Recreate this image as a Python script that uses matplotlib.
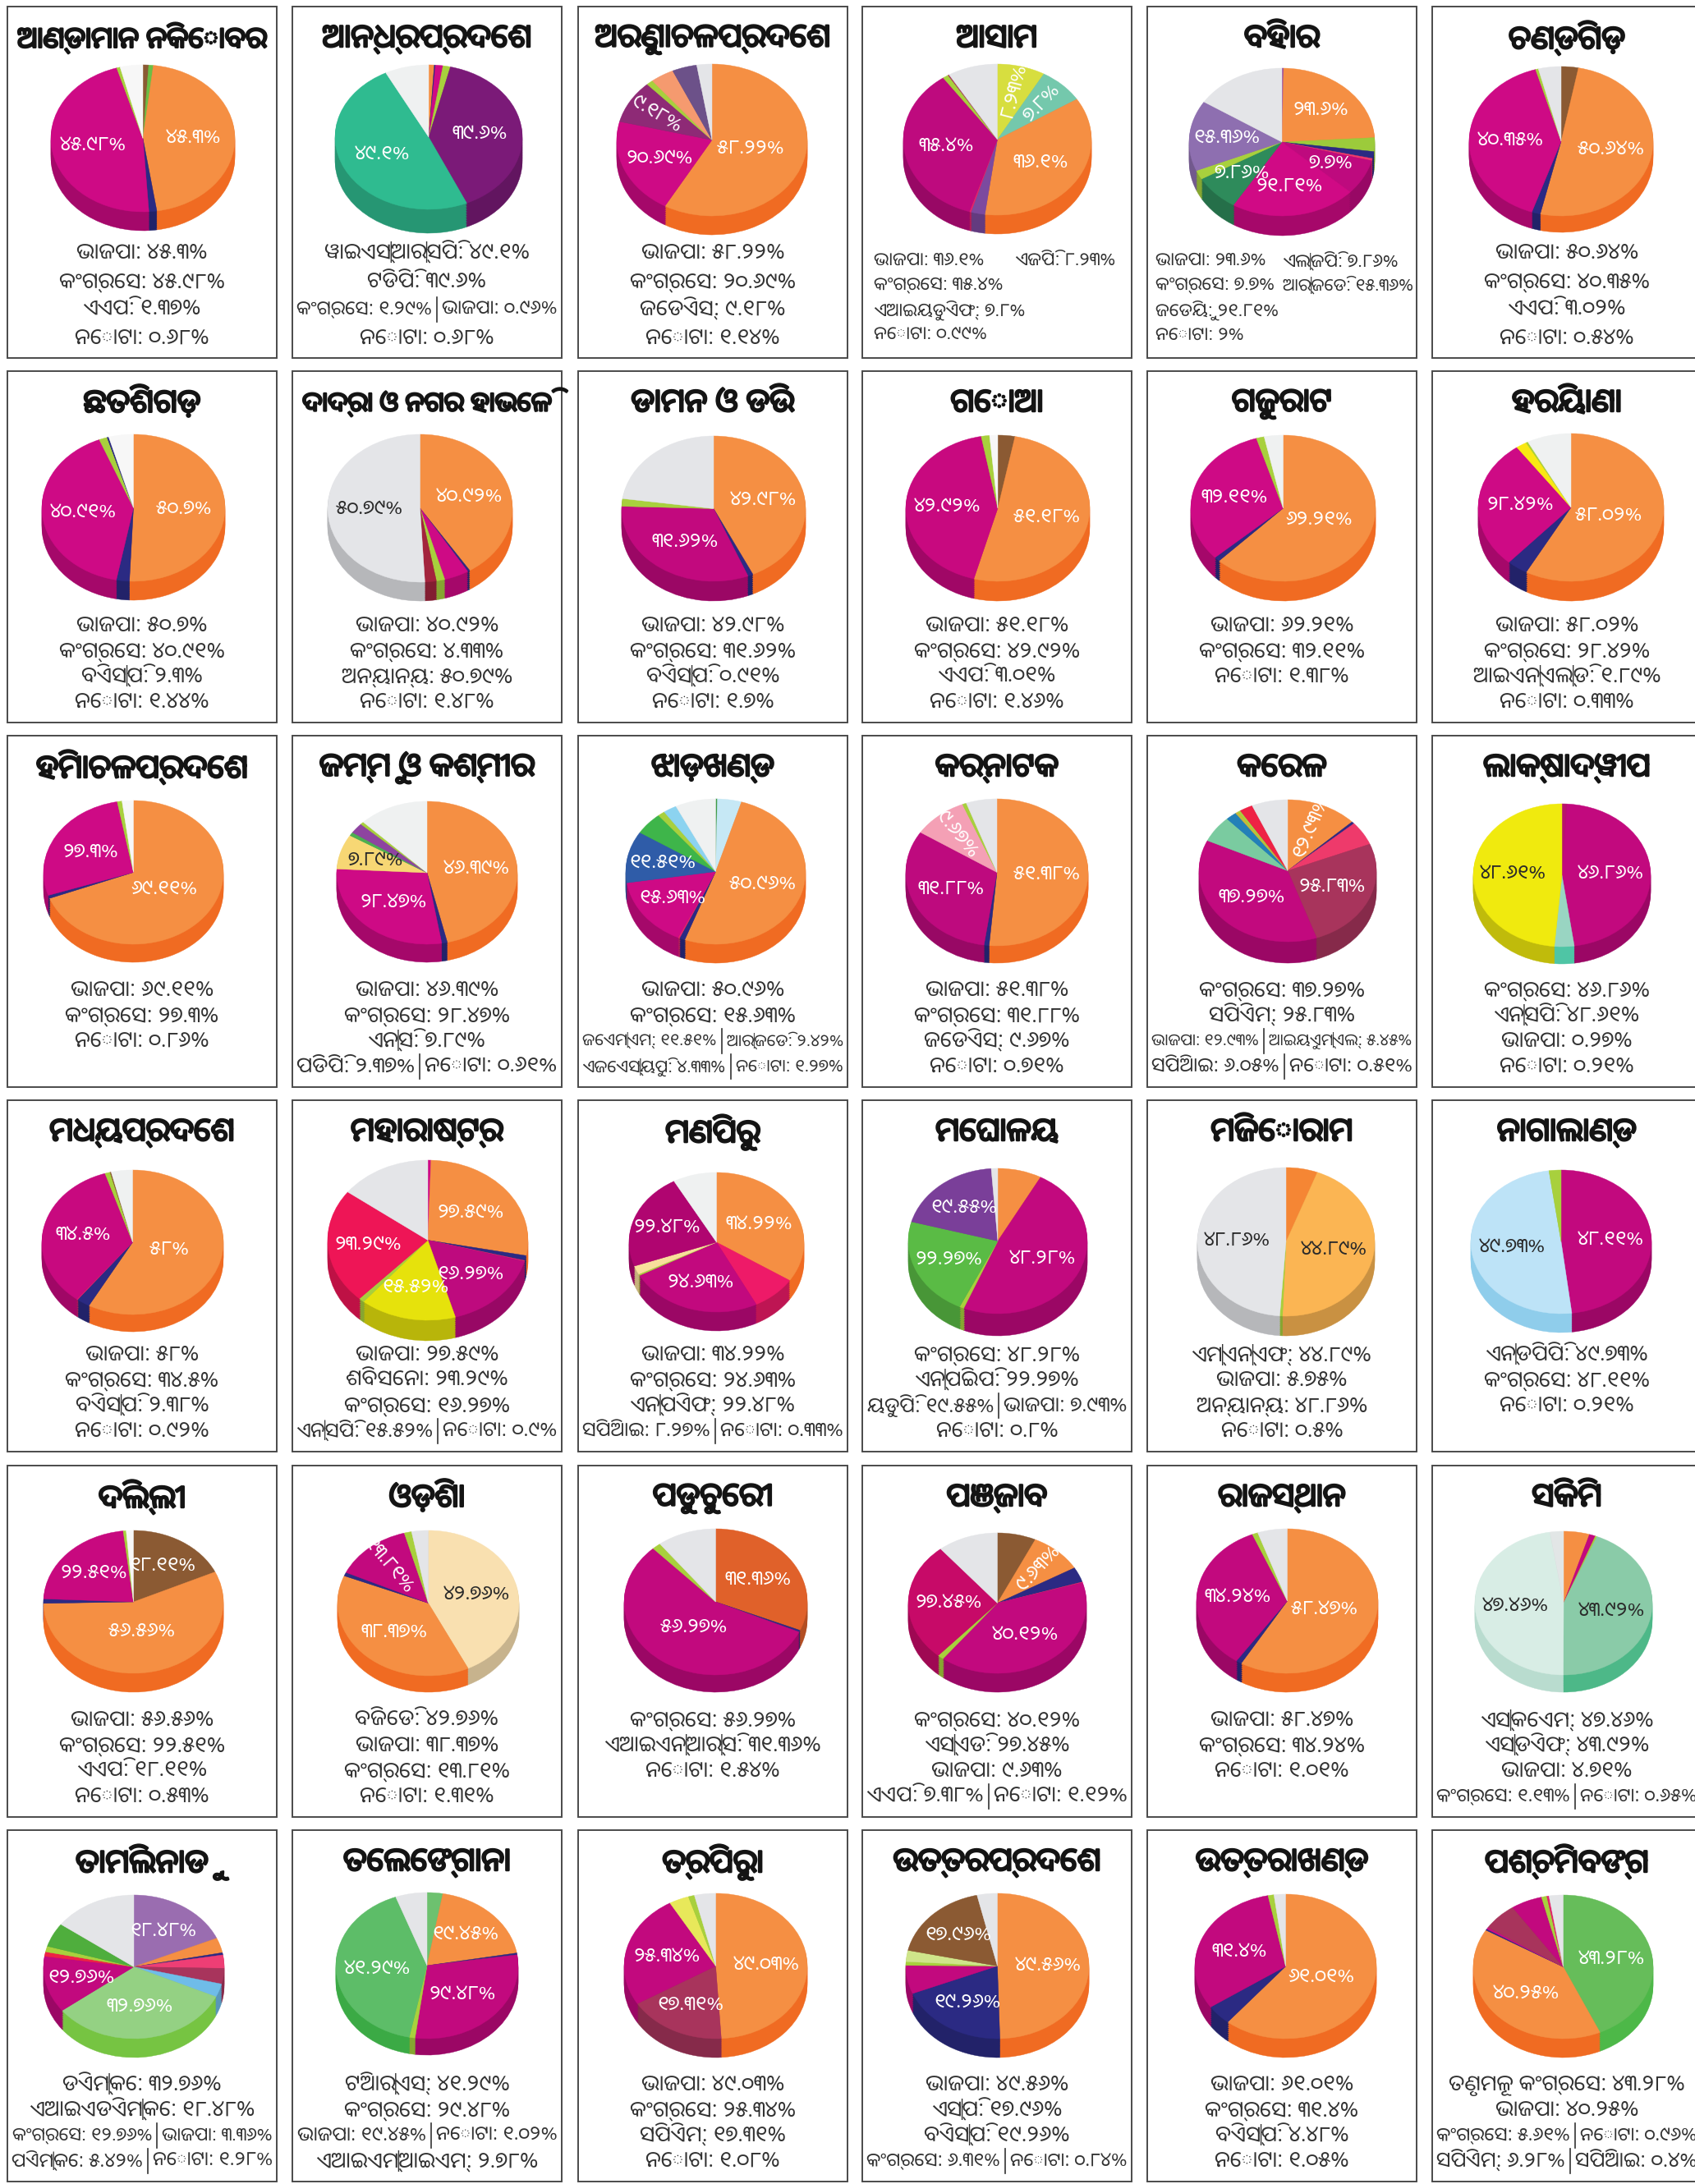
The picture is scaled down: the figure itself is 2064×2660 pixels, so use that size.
#!/usr/bin/env python
# 36 small 3d-look pies, one per state, lok sabha vote share
import numpy as np
import matplotlib
matplotlib.use('Agg')
import matplotlib.pyplot as plt
import matplotlib.patheffects as pe
from matplotlib.colors import to_rgb
from matplotlib.patches import Rectangle

plt.rcParams['font.family'] = ['Noto Sans Oriya', 'DejaVu Sans']

orange = '#F58F43'
magenta = '#CE0A85'
navy = '#2B2A83'
lime = '#A8D03D'
gray = '#E4E5E8'
pale = '#F7F7F7'
brown = '#8B5A33'
rose = '#A8345C'
yellow = '#F0EA0E'
cream = '#F9E0B0'
sky = '#BDE3F7'
mint = '#8ACBA8'
foam = '#D8EDE5'
amber = '#FBB553'
sand = '#F7D774'

BJP = 'ଭାଜପା'
INC = 'କଂଗ୍ରେସ'
NOTA = 'ନୋଟା'
AAP = 'ଏଏପି'
BSP = 'ବିଏସ୍‌ପି'
OTH = 'ଅନ୍ୟାନ୍ୟ'

# slices run clockwise from 12 o'clock, lab = which slices carry a percent
andaman_v = [1.0, 0.8, 45.3, 1.37, 45.98, 0.6, 3.95]
andaman_c = [brown, '#6CBE45', orange, navy, magenta, lime, pale]
andaman_lab = [2, 4]
andaman_p = [BJP, INC, AAP, NOTA]
andaman_s = [45.3, 45.98, 1.37, 0.68]
andaman_r = [1, 1, 1, 1]

andhra_v = [0.96, 0.2, 1.29, 1.28, 39.6, 49.1, 7.57]
andhra_c = [orange, navy, magenta, lime, '#7B1A78', '#2FBB90', '#EFF1F1']
andhra_lab = [4, 5]
andhra_p = ['ୱାଇଏସ୍‌ଆର୍‌ସିପି', 'ଟିଡିପି', INC, BJP, NOTA]
andhra_s = [49.1, 39.6, 1.29, 0.96, 0.68]
andhra_r = [1, 1, 2, 1]

arunachal_v = [58.22, 20.69, 9.18, 1.14, 4, 4.2, 2.57]
arunachal_c = [orange, magenta, '#8E2A76', lime, '#F59A6F', '#6C5189', gray]
arunachal_lab = [0, 1, 2]
arunachal_p = [BJP, INC, 'ଜେଡିଏସ୍', NOTA]
arunachal_s = [58.22, 20.69, 9.18, 1.14]
arunachal_r = [1, 1, 1, 1]

assam_v = [8.23, 7.8, 36.1, 2.4, 0.3, 35.4, 0.99, 0.2, 8.58]
assam_c = ['#D7DE3F', '#74C8AC', orange, '#7C4A9F', '#E3256B', '#BE0A7E', lime, rose, gray]
assam_lab = [0, 1, 2, 5]
assam_p = [BJP, 'ଏଜିପି', INC, 'ଏଆଇୟୁଡିଏଫ୍', NOTA]
assam_s = [36.1, 8.23, 35.4, 7.8, 0.99]
assam_r = [2, 1, 1, 1]

bihar_v = [0.3, 23.6, 3, 1.5, 0.5, 7.7, 21.81, 7.86, 2, 15.36, 15.77]
bihar_c = ['#9B4FA0', orange, '#9CCB3B', navy, '#EE3A6B', '#BE0A7E', '#D00A85', '#2E8B5B', lime, '#8E6FB0', gray]
bihar_lab = [1, 5, 6, 7, 9]
bihar_p = [BJP, 'ଏଲ୍‌ଜିପି', INC, 'ଆର୍‌ଜେଡି', 'ଜେଡିୟୁ', NOTA]
bihar_s = [23.6, 7.86, 7.7, 15.36, 21.81, 2]
bihar_r = [2, 2, 1, 1]

chandigarh_v = [3.02, 50.64, 1.5, 40.35, 0.5, 3.99]
chandigarh_c = [brown, orange, navy, magenta, lime, gray]
chandigarh_lab = [1, 3]
chandigarh_p = [BJP, INC, AAP, NOTA]
chandigarh_s = [50.64, 40.35, 3.02, 0.54]
chandigarh_r = [1, 1, 1, 1]

chhattisgarh_v = [50.7, 2.3, 40.91, 1.44, 0.3, 4.35]
chhattisgarh_c = [orange, navy, magenta, lime, navy, pale]
chhattisgarh_lab = [0, 2]
chhattisgarh_p = [BJP, INC, BSP, NOTA]
chhattisgarh_s = [50.7, 40.91, 2.3, 1.44]
chhattisgarh_r = [1, 1, 1, 1]

dadra_v = [40.92, 0.4, 4.33, 1.48, 2, 50.79]
dadra_c = [orange, navy, magenta, lime, '#A3243D', gray]
dadra_lab = [0, 5]
dadra_p = [BJP, INC, OTH, NOTA]
dadra_s = [40.92, 4.33, 50.79, 1.48]
dadra_r = [1, 1, 1, 1]

daman_v = [42.98, 0.91, 31.62, 1.7, 22.79]
daman_c = [orange, navy, '#C2097E', lime, gray]
daman_lab = [0, 2]
daman_p = [BJP, INC, BSP, NOTA]
daman_s = [42.98, 31.62, 0.91, 1.7]
daman_r = [1, 1, 1, 1]

goa_v = [3.01, 51.18, 42.92, 1.46, 1.43]
goa_c = [brown, orange, '#C8097F', lime, pale]
goa_lab = [1, 2]
goa_p = [BJP, INC, AAP, NOTA]
goa_s = [51.18, 42.92, 3.01, 1.46]
goa_r = [1, 1, 1, 1]

gujarat_v = [62.21, 1, 32.11, 1.38, 3.3]
gujarat_c = [orange, navy, magenta, lime, '#EFF1F1']
gujarat_lab = [0, 2]
gujarat_p = [BJP, INC, NOTA]
gujarat_s = [62.21, 32.11, 1.38]
gujarat_r = [1, 1, 1]

haryana_v = [58.02, 3.65, 28.42, 1.89, 0.33, 7.69]
haryana_c = [orange, navy, magenta, '#F9E813', lime, '#EFF1F1']
haryana_lab = [0, 2]
haryana_p = [BJP, INC, 'ଆଇଏନ୍‌ଏଲ୍‌ଡି', NOTA]
haryana_s = [58.02, 28.42, 1.89, 0.33]
haryana_r = [1, 1, 1, 1]

himachal_v = [69.11, 0.7, 27.3, 0.86, 2.03]
himachal_c = [orange, navy, magenta, lime, pale]
himachal_lab = [0, 2]
himachal_p = [BJP, INC, NOTA]
himachal_s = [69.11, 27.3, 0.86]
himachal_r = [1, 1, 1]

jammu_v = [46.39, 1, 28.47, 7.89, 0.8, 2.37, 0.61, 12.47]
jammu_c = [orange, navy, magenta, sand, '#4CAF50', '#8E44A0', lime, '#EFF1F1']
jammu_lab = [0, 2, 3]
jammu_p = [BJP, INC, 'ଏନ୍‌ସି', 'ପିଡିପି', NOTA]
jammu_s = [46.39, 28.47, 7.89, 2.37, 0.61]
jammu_r = [1, 1, 1, 2]

jharkhand_v = [0.3, 4.33, 50.96, 1, 0.3, 15.63, 11.51, 5, 1.27, 2.42, 7.28]
jharkhand_c = ['#3E9B46', '#C6E8F5', orange, navy, '#E3256B', magenta, '#2F5CA8', '#3EB54A', lime, '#8CD3F0', '#EFF1F1']
jharkhand_lab = [2, 5, 6]
jharkhand_p = [BJP, INC, 'ଜେଏମ୍‌ଏମ୍', 'ଆର୍‌ଜେଡି', 'ଏଜେଏସ୍‌ୟୁପି', NOTA]
jharkhand_s = [50.96, 15.63, 11.51, 2.42, 4.33, 1.27]
jharkhand_r = [1, 1, 2, 2]

karnataka_v = [51.38, 0.9, 31.88, 9.67, 0.71, 5.46]
karnataka_c = [orange, navy, '#BE0A7E', '#F4A0B5', lime, gray]
karnataka_lab = [0, 2, 3]
karnataka_p = [BJP, INC, 'ଜେଡିଏସ୍', NOTA]
karnataka_s = [51.38, 31.88, 9.67, 0.71]
karnataka_r = [1, 1, 1, 1]

kerala_v = [12.93, 0.5, 5.45, 25.83, 37.27, 6.05, 2, 0.5, 0.51, 2.4, 6.56]
kerala_c = [orange, navy, '#EE3A6B', rose, '#C2097E', '#7ACBA0', '#2380B8', '#C9B83A', lime, '#EE2245', gray]
kerala_lab = [0, 3, 4]
kerala_p = [INC, 'ସିପିଏମ୍', BJP, 'ଆଇୟୁଏମ୍‌ଏଲ୍', 'ସିପିଆଇ', NOTA]
kerala_s = [37.27, 25.83, 12.93, 5.45, 6.05, 0.51]
kerala_r = [1, 1, 2, 2]

lakshadweep_v = [0.9, 46.86, 3.6, 48.61]
lakshadweep_c = ['#B8146C', '#C2097E', '#99D5C2', yellow]
lakshadweep_lab = [1, 3]
lakshadweep_p = [INC, 'ଏନ୍‌ସିପି', BJP, NOTA]
lakshadweep_s = [46.86, 48.61, 0.27, 0.21]
lakshadweep_r = [1, 1, 1, 1]

mp_v = [58, 2.38, 0.2, 34.5, 0.92, 0.2, 3.8]
mp_c = [orange, navy, '#E3256B', '#C8097F', lime, brown, '#EFF1F1']
mp_lab = [0, 3]
mp_p = [BJP, INC, BSP, NOTA]
mp_s = [58, 34.5, 2.38, 0.92]
mp_r = [1, 1, 1, 1]

maharashtra_v = [0.5, 27.59, 1, 0.2, 16.27, 15.52, 0.9, 23.29, 14.73]
maharashtra_c = [magenta, orange, navy, '#E3256B', '#BE0A7E', '#E6E20C', lime, '#EE1556', gray]
maharashtra_lab = [1, 4, 5, 7]
maharashtra_p = [BJP, 'ଶିବସେନା', INC, 'ଏନ୍‌ସିପି', NOTA]
maharashtra_s = [27.59, 23.29, 16.27, 15.52, 0.9]
maharashtra_r = [1, 1, 1, 2]

manipur_v = [34.22, 8.27, 24.63, 0.33, 2, 22.48, 8.07]
manipur_c = [orange, '#EE1A68', '#C2097E', lime, '#F8DF9B', '#B00570', '#EFF1F1']
manipur_lab = [0, 2, 5]
manipur_p = [BJP, INC, 'ଏନ୍‌ପିଏଫ୍', 'ସିପିଆଇ', NOTA]
manipur_s = [34.22, 24.63, 22.48, 8.27, 0.33]
manipur_r = [1, 1, 1, 2]

meghalaya_v = [7.93, 48.28, 0.8, 22.27, 19.55, 1.17]
meghalaya_c = [orange, '#C2097E', lime, '#5ABB45', '#7A3F99', gray]
meghalaya_lab = [1, 3, 4]
meghalaya_p = [INC, 'ଏନ୍‌ପିଇପି', 'ୟୁଡିପି', BJP, NOTA]
meghalaya_s = [48.28, 22.27, 19.55, 7.93, 0.8]
meghalaya_r = [1, 1, 2, 1]

mizoram_v = [5.75, 44.89, 0.5, 48.86]
mizoram_c = ['#F58634', amber, lime, gray]
mizoram_lab = [1, 3]
mizoram_p = ['ଏମ୍‌ଏନ୍‌ଏଫ୍', BJP, OTH, NOTA]
mizoram_s = [44.89, 5.75, 48.86, 0.5]
mizoram_r = [1, 1, 1, 1]

nagaland_v = [48.11, 49.73, 2.16]
nagaland_c = ['#C2097E', sky, lime]
nagaland_lab = [0, 1]
nagaland_p = ['ଏନ୍‌ଡିପିପି', INC, NOTA]
nagaland_s = [49.73, 48.11, 0.21]
nagaland_r = [1, 1, 1]

delhi_v = [18.11, 56.56, 1, 22.51, 0.53, 1.29]
delhi_c = [brown, orange, navy, '#C8097F', lime, pale]
delhi_lab = [0, 1, 3]
delhi_p = [BJP, INC, AAP, NOTA]
delhi_s = [56.56, 22.51, 18.11, 0.53]
delhi_r = [1, 1, 1, 1]

odisha_v = [42.76, 38.37, 0.8, 13.81, 1.31, 2.95]
odisha_c = [cream, orange, navy, '#C2097E', lime, gray]
odisha_lab = [0, 1, 3]
odisha_p = ['ବିଜେଡି', BJP, INC, NOTA]
odisha_s = [42.76, 38.37, 13.81, 1.31]
odisha_r = [1, 1, 1, 1]

puducherry_v = [31.36, 0.4, 56.27, 1.54, 10.43]
puducherry_c = ['#E0612A', navy, '#C2097E', lime, gray]
puducherry_lab = [0, 2]
puducherry_p = [INC, 'ଏଆଇଏନ୍‌ଆର୍‌ସି', NOTA]
puducherry_s = [56.27, 31.36, 1.54]
puducherry_r = [1, 1, 1]

punjab_v = [7, 9.63, 3.5, 0.2, 40.12, 1.12, 27.45, 10.98]
punjab_c = [brown, orange, navy, '#E3256B', '#C2097E', lime, '#C70A68', gray]
punjab_lab = [1, 4, 6]
punjab_p = [INC, 'ଏସ୍‌ଏଡି', BJP, AAP, NOTA]
punjab_s = [40.12, 27.45, 9.63, 7.38, 1.12]
punjab_r = [1, 1, 1, 2]

rajasthan_v = [58.47, 1, 34.24, 1.01, 5.28]
rajasthan_c = [orange, navy, '#C2097E', lime, gray]
rajasthan_lab = [0, 2]
rajasthan_p = [BJP, INC, NOTA]
rajasthan_s = [58.47, 34.24, 1.01]
rajasthan_r = [1, 1, 1]

sikkim_v = [4.71, 1.13, 0.3, 43.92, 47.46, 2.48]
sikkim_c = [orange, '#C2097E', lime, mint, foam, '#E2E6E6']
sikkim_lab = [3, 4]
sikkim_p = ['ଏସ୍‌କେଏମ୍', 'ଏସ୍‌ଡିଏଫ୍', BJP, INC, NOTA]
sikkim_s = [47.46, 43.92, 4.71, 1.13, 0.65]
sikkim_r = [1, 1, 1, 2]

tamilnadu_v = [18.48, 3.36, 0.5, 3, 3.5, 3, 32.76, 12.76, 1, 1.28, 5.42, 14.94]
tamilnadu_c = ['#9A6DB0', orange, navy, '#EE3E75', rose, '#6FBCE8', '#94D183', '#C2097E', '#EE2245', lime, '#4FAE3D', gray]
tamilnadu_lab = [0, 6, 7]
tamilnadu_p = ['ଡିଏମ୍‌କେ', 'ଏଆଇଏଡିଏମ୍‌କେ', INC, BJP, 'ପିଏମ୍‌କେ', NOTA]
tamilnadu_s = [32.76, 18.48, 12.76, 3.36, 5.42, 1.28]
tamilnadu_r = [1, 1, 2, 2]

telangana_v = [2.78, 19.45, 0.4, 29.48, 1.02, 41.29, 5.58]
telangana_c = ['#6DC16F', orange, navy, '#C2097E', lime, '#5DBD68', gray]
telangana_lab = [1, 3, 5]
telangana_p = ['ଟିଆର୍‌ଏସ୍', INC, BJP, NOTA, 'ଏଆଇଏମ୍‌ଆଇଏମ୍']
telangana_s = [41.29, 29.48, 19.45, 1.02, 2.78]
telangana_r = [1, 1, 2, 1]

tripura_v = [49.03, 17.31, 25.34, 3.5, 1.08, 3.74]
tripura_c = [orange, rose, '#C2097E', '#E8E85A', lime, gray]
tripura_lab = [0, 1, 2]
tripura_p = [BJP, INC, 'ସିପିଏମ୍', NOTA]
tripura_s = [49.03, 25.34, 17.31, 1.08]
tripura_r = [1, 1, 1, 1]

up_v = [49.56, 19.26, 6.31, 0.84, 2.5, 17.96, 3.57]
up_c = [orange, navy, '#C2097E', lime, '#CFE58A', brown, gray]
up_lab = [0, 1, 5]
up_p = [BJP, 'ଏସ୍‌ପି', BSP, INC, NOTA]
up_s = [49.56, 17.96, 19.26, 6.31, 0.84]
up_r = [1, 1, 1, 2]

uttarakhand_v = [61.01, 4.48, 31.4, 1.05, 2.06]
uttarakhand_c = [orange, navy, '#C2097E', lime, gray]
uttarakhand_lab = [0, 2]
uttarakhand_p = [BJP, INC, BSP, NOTA]
uttarakhand_s = [61.01, 31.4, 4.48, 1.05]
uttarakhand_r = [1, 1, 1, 1]

bengal_v = [43.28, 40.25, 0.3, 0.4, 6.28, 5.61, 0.96, 0.4, 2.52]
bengal_c = ['#66BD5A', orange, navy, magenta, rose, '#C2097E', lime, '#E3256B', gray]
bengal_lab = [0, 1]
bengal_p = ['ତୃଣମୂଳ କଂଗ୍ରେସ', BJP, INC, NOTA, 'ସିପିଏମ୍', 'ସିପିଆଇ']
bengal_s = [43.28, 40.25, 5.61, 0.96, 6.28, 0.4]
bengal_r = [1, 1, 2, 2]

states = ['ଆଣ୍ଡାମାନ ନିକୋବର', 'ଆନ୍ଧ୍ରପ୍ରଦେଶ', 'ଅରୁଣାଚଳପ୍ରଦେଶ', 'ଆସାମ', 'ବିହାର', 'ଚଣ୍ଡିଗ\u0b5c',
          'ଛତିଶଗ\u0b5c', 'ଦାଦ୍ରା ଓ ନଗର ହାଭେଳି', 'ଡାମନ ଓ ଡିଉ', 'ଗୋଆ', 'ଗୁଜରାଟ', 'ହରିୟାଣା',
          'ହିମାଚଳପ୍ରଦେଶ', 'ଜମ୍ମୁ ଓ କଶ୍ମୀର', 'ଝା\u0b5cଖଣ୍ଡ', 'କର୍ନାଟକ', 'କେରଳ', 'ଲାକ୍ଷାଦ୍ୱୀପ',
          'ମଧ୍ୟପ୍ରଦେଶ', 'ମହାରାଷ୍ଟ୍ର', 'ମଣିପୁର', 'ମେଘାଳୟ', 'ମିଜୋରାମ', 'ନାଗାଲାଣ୍ଡ',
          'ଦିଲ୍ଲୀ', 'ଓ\u0b5cିଶା', 'ପୁଡୁଚେରୀ', 'ପଞ୍ଜାବ', 'ରାଜସ୍ଥାନ', 'ସିକିମ',
          'ତାମିଲନାଡୁ', 'ତେଲେଙ୍ଗାନା', 'ତ୍ରିପୁରା', 'ଉତ୍ତରପ୍ରଦେଶ', 'ଉତ୍ତରାଖଣ୍ଡ', 'ପଶ୍ଚିମବଙ୍ଗ']

keys = ['andaman', 'andhra', 'arunachal', 'assam', 'bihar', 'chandigarh',
        'chhattisgarh', 'dadra', 'daman', 'goa', 'gujarat', 'haryana',
        'himachal', 'jammu', 'jharkhand', 'karnataka', 'kerala', 'lakshadweep',
        'mp', 'maharashtra', 'manipur', 'meghalaya', 'mizoram', 'nagaland',
        'delhi', 'odisha', 'puducherry', 'punjab', 'rajasthan', 'sikkim',
        'tamilnadu', 'telangana', 'tripura', 'up', 'uttarakhand', 'bengal']

# pie boxes in reference pixels: x0, x1, top, bottom of top face, bottom of rim
pie_box = [
    (62, 286, 79, 258, 281), (408, 636, 79, 255, 284), (751, 983, 78, 263, 286),
    (1100, 1329, 78, 262, 285), (1448, 1674, 83, 263, 287), (1789, 2013, 81, 263, 283),
    (51, 274, 529, 708, 731), (399, 624, 529, 709, 732), (757, 981, 531, 708, 732),
    (1103, 1327, 530, 708, 732), (1450, 1675, 530, 708, 732), (1800, 2026, 528, 708, 732),
    (53, 272, 975, 1150, 1172), (410, 630, 976, 1150, 1172), (762, 981, 973, 1150, 1173),
    (1103, 1325, 973, 1152, 1173), (1460, 1676, 974, 1147, 1173), (1794, 2010, 979, 1153, 1174),
    (51, 272, 1425, 1601, 1622), (399, 643, 1413, 1608, 1633), (766, 979, 1428, 1598, 1621),
    (1106, 1324, 1423, 1600, 1627), (1458, 1674, 1422, 1603, 1627), (1791, 2011, 1425, 1600, 1623),
    (53, 272, 1864, 2038, 2061), (411, 632, 1864, 2041, 2061), (760, 983, 1862, 2040, 2061),
    (1106, 1323, 1867, 2038, 2061), (1457, 1678, 1862, 2038, 2061), (1796, 2012, 1865, 2040, 2061),
    (53, 273, 2308, 2483, 2506), (409, 631, 2305, 2483, 2503), (760, 983, 2306, 2483, 2506),
    (1103, 1326, 2306, 2483, 2506), (1455, 1676, 2307, 2483, 2506), (1794, 2013, 2308, 2483, 2506),
]

col_x = [9, 356, 704, 1050, 1397, 1744]
row_y = [8, 452, 896, 1340, 1785, 2229]
panel_w, panel_h = 328, 428
text_font = 19
label_font = 17.5
title_font = 28
text_col = '#333333'
dark_on = {gray, cream, sky, mint, foam, amber, sand, yellow}
rim_cols = {orange: '#F06B22', '#94D183': '#76C442', '#66BD5A': '#4DB848', sky: '#8FCDEB',
            foam: '#B9DCCF', mint: '#4DB888', '#99D5C2': '#4FC5A5', '#5DBD68': '#3BAA45'}
odia = str.maketrans('0123456789', '୦୧୨୩୪୫୬୭୮୯')


def pct(v):
    return f'{v:g}'.translate(odia) + '%'


def rim(c):
    if c in rim_cols:
        return rim_cols[c]
    return tuple(x * 0.8 for x in to_rgb(c))


def one_pie(ax, vals, cols, off):
    wedges, _ = ax.pie(vals, colors=cols, center=(0, -off), startangle=90, counterclock=False)
    for w in wedges:
        w.set_edgecolor(w.get_facecolor())
        w.set_linewidth(0.3)
        w.set_clip_on(False)


def label_radius(v, rotated):
    if v > 55:
        return 0.42
    if v > 25:
        return 0.55
    if v > 14 or not rotated:
        return 0.6
    return 0.68


def draw_pie(box, vals, cols, lab):
    x0, x1, top, mid, bot = box
    ax = fig.add_axes([x0 / W, 1 - bot / H, (x1 - x0) / W, (bot - top) / H])
    ry = (mid - top) / 2
    depth = (bot - mid) / ry
    for off in np.linspace(depth, 0.02, 10):
        one_pie(ax, vals, [rim(c) for c in cols], off)
    one_pie(ax, vals, cols, 0)
    ax.set_aspect('auto')
    ax.set_xlim(-1, 1)
    ax.set_ylim(-1 - depth, 1)
    edges = np.cumsum(vals) / np.sum(vals) * 360
    for i in lab:
        ang = edges[i] - vals[i] / np.sum(vals) * 180
        a = np.radians(90 - ang)
        rot = 0
        off_top = min(ang, 360 - ang)
        tilted = vals[i] < 14 and off_top <= 72
        if tilted:
            rot = np.degrees(a)
            rot = (rot + 90) % 180 - 90
        r = label_radius(vals[i], tilted)
        ax.text(r * np.cos(a), r * np.sin(a), pct(vals[i]), ha='center', va='center',
                rotation=rot, rotation_mode='anchor', fontsize=label_font,
                color='#2A2A2A' if cols[i] in dark_on else 'white')


W, H = 2064, 2660
fig = plt.figure(figsize=(W / 100, H / 100), dpi=100)
bg = fig.add_axes([0, 0, 1, 1])
bg.set_xlim(0, W)
bg.set_ylim(H, 0)
bg.axis('off')
rend = fig.canvas.get_renderer()

for n, (key, name) in enumerate(zip(keys, states)):
    px = col_x[n % 6]
    py = row_y[n // 6]
    cx = px + panel_w / 2
    bg.add_patch(Rectangle((px, py), panel_w, panel_h, fc='white', ec='#4A4A4A', lw=1.4))
    tt = bg.text(cx, py + 39, name, ha='center', va='center', fontsize=title_font, color='#141414',
                 path_effects=[pe.withStroke(linewidth=1.8, foreground='#141414')])
    tw = tt.get_window_extent(rend).width
    if tw > panel_w - 24:
        tt.set_fontsize(title_font * (panel_w - 24) / tw)

    g = globals()
    draw_pie(pie_box[n], g[key + '_v'], g[key + '_c'], g[key + '_lab'])

    parties, shares, rows = g[key + '_p'], g[key + '_s'], g[key + '_r']
    ys = [300, 335, 369, 404] if n < 6 else [310, 341, 372, 403]
    k = 0
    for j, cnt in enumerate(rows):
        y = py + ys[j]
        strs = [f'{parties[k + m]}: {pct(shares[k + m])}' for m in range(cnt)]
        k += cnt
        if key in ('assam', 'bihar'):
            y = py + [309, 339, 370, 400][j]
            left = 14 if key == 'assam' else 10
            second = 186 if key == 'assam' else 165
            bg.text(px + left, y, strs[0], ha='left', va='center', fontsize=16, color=text_col)
            if cnt == 2:
                t = bg.text(px + second, y, strs[1], ha='left', va='center', fontsize=16, color=text_col)
                w = t.get_window_extent(rend).width
                if second + w > panel_w - 4:
                    t.set_fontsize(16 * (panel_w - 4 - second) / w)
        elif cnt == 1:
            t = bg.text(cx, y, strs[0], ha='center', va='center', fontsize=text_font, color=text_col)
            w = t.get_window_extent(rend).width
            if w > panel_w - 12:
                t.set_fontsize(text_font * (panel_w - 12) / w)
        else:
            a = bg.text(0, y, strs[0], ha='right', va='center', fontsize=text_font, color=text_col)
            b = bg.text(0, y, strs[1], ha='left', va='center', fontsize=text_font, color=text_col)
            wa = a.get_window_extent(rend).width
            wb = b.get_window_extent(rend).width
            room = panel_w - 10 - 12
            scale = min(1, room / (wa + wb))
            a.set_fontsize(text_font * scale)
            b.set_fontsize(text_font * scale)
            wa, wb = wa * scale, wb * scale
            bar = cx + (wa - wb) / 2
            a.set_x(bar - 6)
            b.set_x(bar + 6)
            bg.plot([bar, bar], [y - 15, y + 15], color=text_col, lw=1.2)

fig.savefig('out.png', dpi=100, facecolor='white')
